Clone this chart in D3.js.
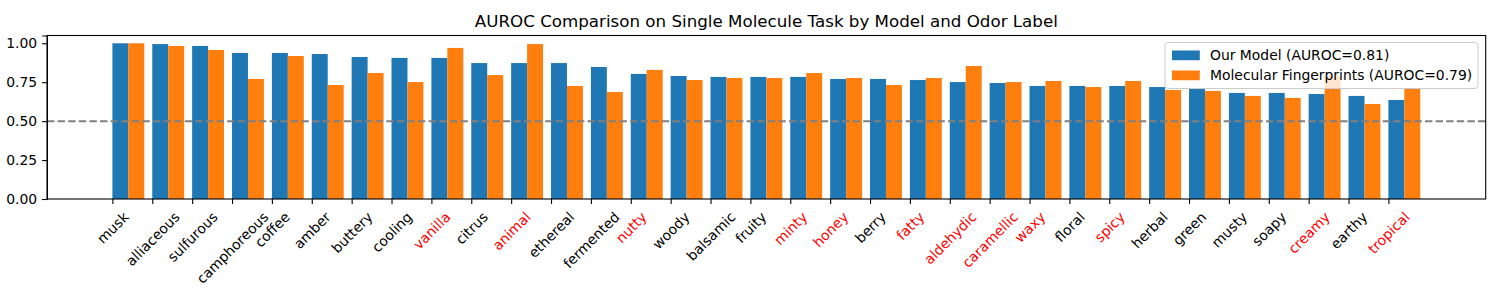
<!DOCTYPE html>
<html>
<head>
<script src="https://cdn.jsdelivr.net/npm/d3@7"></script>
<style>
body { margin: 0; background: #fff; }
svg { font-family: "DejaVu Sans", sans-serif; }
</style>
</head>
<body>
<svg id="chart"></svg>
<script>
var labels = ["musk", "alliaceous", "sulfurous", "camphoreous", "coffee", "amber", "buttery", "cooling",
  "vanilla", "citrus", "animal", "ethereal", "fermented", "nutty", "woody", "balsamic", "fruity",
  "minty", "honey", "berry", "fatty", "aldehydic", "caramellic", "waxy", "floral", "spicy",
  "herbal", "green", "musty", "soapy", "creamy", "earthy", "tropical"];

var ourModel = [1.00, 0.995, 0.983, 0.938, 0.938, 0.931, 0.912, 0.906, 0.906, 0.873, 0.873,
  0.873, 0.848, 0.803, 0.790, 0.784, 0.784, 0.784, 0.771, 0.771, 0.764, 0.751, 0.745,
  0.726, 0.726, 0.726, 0.719, 0.707, 0.681, 0.681, 0.674, 0.662, 0.636];

var fingerprints = [1.00, 0.983, 0.957, 0.771, 0.918, 0.732, 0.809, 0.751, 0.970, 0.796, 0.995,
  0.726, 0.687, 0.829, 0.764, 0.777, 0.777, 0.809, 0.777, 0.732, 0.777, 0.854, 0.751,
  0.758, 0.719, 0.758, 0.700, 0.694, 0.662, 0.649, 0.790, 0.610, 0.712];

var redLabels = ["vanilla", "animal", "nutty", "minty", "honey", "fatty", "aldehydic",
  "caramellic", "waxy", "spicy", "creamy", "tropical"];

var yTicks = [0, 0.25, 0.5, 0.75, 1.0];
var seriesNames = ["Our Model (AUROC=0.81)", "Molecular Fingerprints (AUROC=0.79)"];
var colors = ["#1f77b4", "#ff7f0e"];

var W = 1500, H = 300;
var margin = {left: 47, right: 14.3, top: 35.5, bottom: 101};
var width = W - margin.left - margin.right,
    height = H - margin.top - margin.bottom;
var barW = 0.4;

var svg = d3.select("#chart").attr("width", W).attr("height", H);
var g = svg.append("g").attr("transform", "translate(" + margin.left + "," + margin.top + ")");

var n = labels.length;
var span = n - 1 + 2 * barW;
var x = d3.scaleLinear().domain([-0.05 * span, span * 1.05]).range([0, width]);
var y = d3.scaleLinear().domain([0, 1.05]).range([height, 0]);

// bars
var series = [ourModel, fingerprints];
series.forEach(function(vals, s) {
  g.selectAll("rect.s" + s)
    .data(vals)
    .enter().append("rect")
    .attr("class", "s" + s)
    .attr("x", function(d, i) { return x(i + s * barW); })
    .attr("width", x(barW) - x(0))
    .attr("y", function(d) { return y(d); })
    .attr("height", function(d) { return y(0) - y(d); })
    .attr("fill", colors[s]);
});

// chance line
g.append("line")
  .attr("x1", 0).attr("x2", width)
  .attr("y1", y(0.5)).attr("y2", y(0.5))
  .attr("stroke", "#808080")
  .attr("stroke-width", 2)
  .attr("stroke-dasharray", "7.4,3.2");

// y axis
var yAxis = g.append("g")
  .call(d3.axisLeft(y).tickValues(yTicks).tickFormat(d3.format(".2f")).tickSize(4.9).tickPadding(4.9));
yAxis.selectAll("text").attr("font-size", 13.9).attr("fill", "#000").style("font-family", "DejaVu Sans");

// x axis
var xAxis = g.append("g")
  .attr("transform", "translate(0," + height + ")")
  .call(d3.axisBottom(x).tickValues(d3.range(n)).tickFormat(function(i) { return labels[i]; }).tickSize(4.9));
xAxis.select(".domain").remove();

var cos45 = Math.SQRT1_2, asc = 12.9, desc = 3.3, labelTop = 4.9 + 4.9;
xAxis.selectAll("text")
  .attr("font-size", 13.9)
  .style("font-family", "DejaVu Sans")
  .attr("fill", function(i) { return redLabels.indexOf(labels[i]) >= 0 ? "red" : "#000"; })
  .attr("text-anchor", "end")
  .attr("dy", null)
  .each(function() {
    var w = this.getComputedTextLength();
    var ax = -cos45 * (desc - w - asc) / 2;
    var ay = labelTop + asc * cos45;
    d3.select(this)
      .attr("x", 0).attr("y", 0)
      .attr("transform", "translate(" + ax + "," + ay + ") rotate(-45)");
  });

[yAxis, xAxis].forEach(function(a) {
  a.selectAll(".tick line").attr("stroke", "#000").attr("stroke-width", 1.1);
});

// frame
g.append("rect")
  .attr("width", width).attr("height", height)
  .attr("fill", "none").attr("stroke", "#000").attr("stroke-width", 1.1);

// title
svg.append("text")
  .attr("x", margin.left + width / 2)
  .attr("y", 27)
  .attr("text-anchor", "middle")
  .attr("font-size", 16.7)
  .text("AUROC Comparison on Single Molecule Task by Model and Odor Label");

// legend
var leg = svg.append("g").attr("transform", "translate(1165,42.5)");
leg.append("rect")
  .attr("width", 313).attr("height", 46)
  .attr("rx", 3)
  .attr("fill", "#fff").attr("fill-opacity", 0.8)
  .attr("stroke", "#ccc").attr("stroke-width", 1);
seriesNames.forEach(function(name, i) {
  leg.append("rect")
    .attr("x", 7).attr("y", 8 + i * 20)
    .attr("width", 27.8).attr("height", 9.7)
    .attr("fill", colors[i]);
  leg.append("text")
    .attr("x", 45).attr("y", 17.5 + i * 20)
    .attr("font-size", 13.9)
    .text(name);
});
</script>
</body>
</html>
